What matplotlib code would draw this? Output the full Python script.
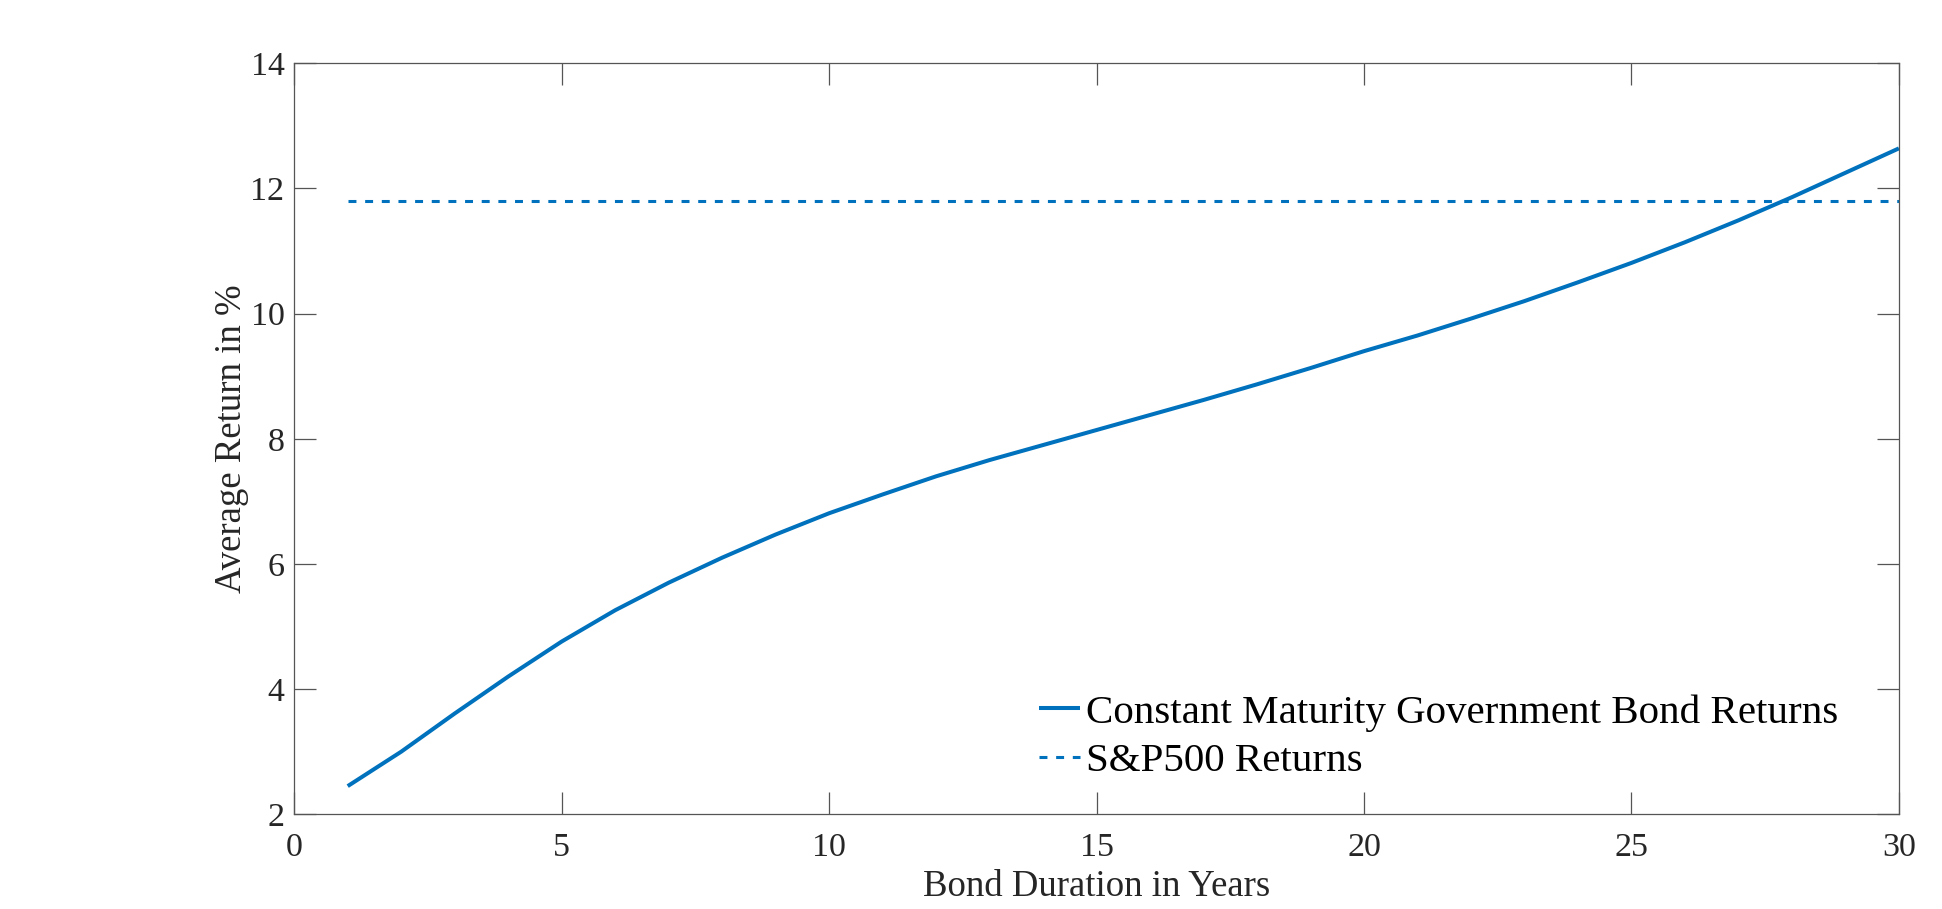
import matplotlib
matplotlib.use("Agg")
import matplotlib.pyplot as plt

# Data
durations = list(range(1, 31))
bond_returns = [2.45, 3.00, 3.61, 4.20, 4.76, 5.26, 5.70, 6.10, 6.47, 6.81,
                7.11, 7.40, 7.66, 7.90, 8.14, 8.38, 8.62, 8.87, 9.13, 9.40,
                9.65, 9.92, 10.20, 10.50, 10.81, 11.14, 11.49, 11.86, 12.25, 12.64]
sp500_return = 11.8
sp500_returns = [sp500_return] * len(durations)

xticks = [0, 5, 10, 15, 20, 25, 30]
yticks = [2, 4, 6, 8, 10, 12, 14]
series_labels = ["Constant Maturity Government Bond Returns", "S&P500 Returns"]
xlabel = "Bond Duration in Years"
ylabel = "Average Return in %"

plt.rcParams['font.family'] = ['Liberation Serif', 'DejaVu Serif']

color = '#0072BD'
axc = '#262626'

fig = plt.figure(figsize=(19.42, 9.09), dpi=100)
ax = fig.add_axes([0.1515, 0.1042, 0.8263, 0.8262])

ax.plot(durations, bond_returns, color=color, lw=2.9, solid_capstyle='butt',
        label=series_labels[0])
ax.plot(durations, sp500_returns, color=color, lw=2.2, dashes=(2.6, 2.85),
        label=series_labels[1])

ax.set_xlim(0, 30)
ax.set_ylim(2, 14)
ax.set_xticks(xticks)
ax.set_yticks(yticks)

for s in ax.spines.values():
    s.set_color('#555555')
    s.set_linewidth(0.9)

ax.tick_params(direction='in', length=16, width=0.9, color='#555555',
               labelsize=24.5, labelcolor=axc, top=True, right=True)
ax.tick_params(axis='x', pad=13)
ax.tick_params(axis='y', pad=7)

ax.set_xlabel(xlabel, fontsize=26.5, color=axc, labelpad=5)
ax.set_ylabel(ylabel, fontsize=26.5, color=axc, labelpad=1)

leg = ax.legend(loc='upper left', bbox_to_anchor=(1039 / 1942, 1 - 694 / 909),
                bbox_transform=fig.transFigure, frameon=False, fontsize=29.5,
                handlelength=1.0, handletextpad=0.15, labelspacing=0.27,
                borderpad=0, borderaxespad=0)
for t in leg.get_texts():
    t.set_color('black')

fig.savefig('out.png', dpi=100)
